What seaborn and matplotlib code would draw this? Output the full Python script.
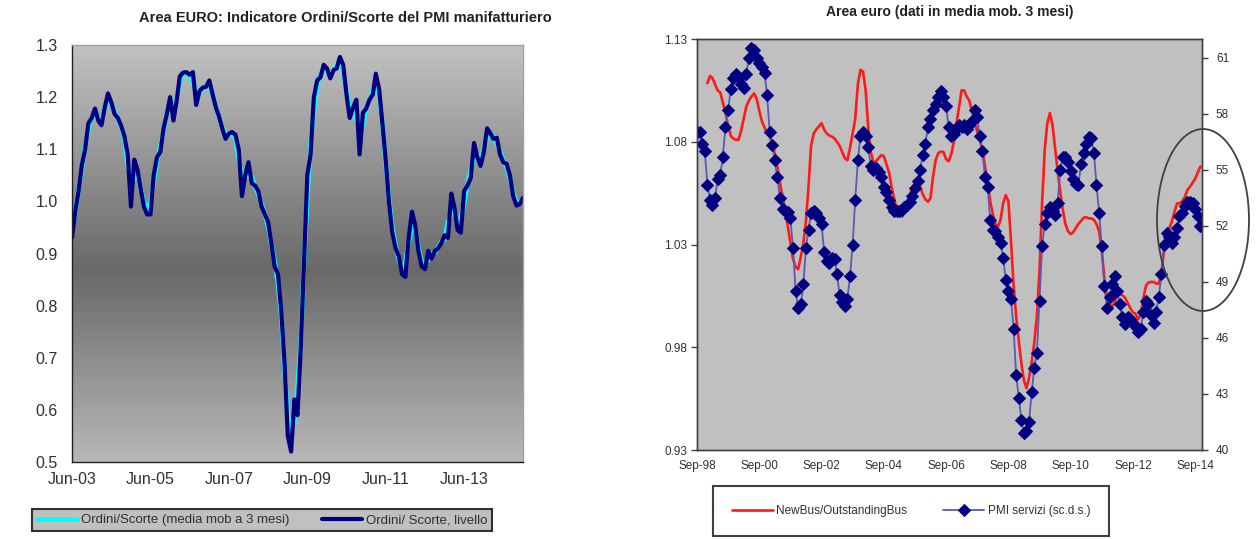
import numpy as np
import pandas as pd
import matplotlib
matplotlib.use("Agg")
import matplotlib.pyplot as plt
import matplotlib.dates as mdates
from matplotlib.colors import LinearSegmentedColormap
from matplotlib.patches import Ellipse
import seaborn as sns

# ---------------- data: left chart (Jun-03 .. Dec-14, monthly) ----------------
left_start = "2003-06-01"
ordini_livello = [
    0.93, 0.98, 1.02, 1.07, 1.10, 1.15, 1.16, 1.178, 1.155, 1.146,
    1.18, 1.207, 1.19, 1.168, 1.16, 1.145, 1.125, 1.09, 0.99, 1.08,
    1.06, 1.025, 0.99, 0.975, 0.975, 1.05, 1.085, 1.095, 1.14, 1.168,
    1.20, 1.155, 1.195, 1.24, 1.247, 1.248, 1.243, 1.248, 1.185, 1.212,
    1.218, 1.22, 1.232, 1.205, 1.18, 1.163, 1.14, 1.12, 1.13, 1.133,
    1.128, 1.10, 1.01, 1.05, 1.075, 1.035, 1.03, 1.02, 0.99, 0.975,
    0.96, 0.92, 0.875, 0.86, 0.79, 0.69, 0.55, 0.52, 0.62, 0.59,
    0.72, 0.88, 1.05, 1.09, 1.20, 1.232, 1.238, 1.262, 1.255, 1.236,
    1.252, 1.255, 1.277, 1.262, 1.205, 1.16, 1.18, 1.195, 1.09, 1.17,
    1.178, 1.195, 1.205, 1.245, 1.215, 1.15, 1.08, 1.00, 0.94, 0.91,
    0.895, 0.86, 0.855, 0.93, 0.98, 0.955, 0.905, 0.875, 0.87, 0.905,
    0.89, 0.905, 0.91, 0.92, 0.935, 0.93, 1.015, 0.99, 0.945, 0.94,
    1.02, 1.03, 1.045, 1.112, 1.085, 1.068, 1.095, 1.14, 1.13, 1.12,
    1.122, 1.09, 1.075, 1.072, 1.05, 1.01, 0.992, 0.995, 1.007,
]
ordini_mm3 = [
    0.945, 0.977, 1.023, 1.063, 1.107, 1.137, 1.163, 1.164, 1.160, 1.160,
    1.178, 1.192, 1.188, 1.173, 1.158, 1.143, 1.120, 1.068, 1.053, 1.043,
    1.055, 1.025, 0.997, 0.980, 1.000, 1.037, 1.077, 1.107, 1.134, 1.169,
    1.174, 1.183, 1.197, 1.227, 1.245, 1.246, 1.246, 1.225, 1.215, 1.205,
    1.217, 1.223, 1.219, 1.206, 1.183, 1.161, 1.141, 1.130, 1.128, 1.130,
    1.120, 1.079, 1.053, 1.045, 1.053, 1.047, 1.028, 1.013, 0.995, 0.975,
    0.952, 0.918, 0.885, 0.842, 0.780, 0.677, 0.587, 0.563, 0.577, 0.643,
    0.730, 0.883, 1.007, 1.113, 1.174, 1.223, 1.244, 1.252, 1.251, 1.248,
    1.248, 1.261, 1.265, 1.248, 1.209, 1.182, 1.178, 1.155, 1.152, 1.146,
    1.181, 1.193, 1.215, 1.222, 1.203, 1.148, 1.077, 1.007, 0.950, 0.915,
    0.888, 0.870, 0.882, 0.922, 0.955, 0.947, 0.912, 0.883, 0.883, 0.888,
    0.900, 0.902, 0.912, 0.922, 0.928, 0.960, 0.978, 0.983, 0.958, 0.968,
    0.997, 1.032, 1.062, 1.081, 1.088, 1.083, 1.101, 1.122, 1.130, 1.124,
    1.111, 1.096, 1.079, 1.066, 1.044, 1.017, 0.999, 0.998, 1.000,
]
left_xticklabels = ["Jun-03", "Jun-05", "Jun-07", "Jun-09", "Jun-11", "Jun-13"]
left_yticks = [0.5, 0.6, 0.7, 0.8, 0.9, 1.0, 1.1, 1.2, 1.3]

# ---------------- data: right chart ----------------
pmi_start = "1998-09-01"
pmi_servizi = [
    57.0, 57.0, 56.4, 56.0, 54.2, 53.4, 53.1, 53.5, 54.5, 54.7,
    55.7, 57.3, 58.2, 59.3, 59.9, 60.1, 59.9, 59.6, 59.4, 60.1,
    61.0, 61.5, 61.4, 61.0, 60.7, 60.5, 60.2, 59.0, 57.0, 56.3,
    55.5, 54.6, 53.5, 52.9, 52.8, 52.75, 52.4, 50.8, 48.5, 47.6,
    47.8, 48.9, 50.8, 51.8, 52.7, 52.8, 52.7, 52.4, 52.1, 50.6,
    50.1, 50.0, 50.3, 50.2, 49.4, 48.3, 47.9, 47.7, 48.1, 49.3,
    51.0, 53.4, 55.5, 56.8, 57.0, 56.8, 56.2, 55.2, 55.0, 55.1,
    54.9, 54.6, 54.1, 53.8, 53.4, 53.0, 52.8, 52.8, 52.8, 52.85,
    53.0, 53.1, 53.3, 53.6, 54.0, 54.4, 55.0, 55.8, 56.4, 57.3,
    57.7, 58.2, 58.5, 58.9, 59.2, 58.9, 58.4, 57.3, 56.8, 56.9,
    57.2, 57.4, 57.3, 57.4, 57.2, 57.4, 57.6, 58.2, 57.8, 56.8,
    56.0, 54.6, 54.1, 52.3, 51.8, 51.7, 51.4, 51.1, 50.3, 49.1,
    48.5, 48.1, 46.5, 44.0, 42.8, 41.6, 40.9, 41.0, 41.5, 43.1,
    44.4, 45.2, 48.0, 50.9, 52.1, 52.7, 53.0, 52.8, 52.6, 53.2,
    55.0, 55.7, 55.7, 55.4, 54.95, 54.5, 54.25, 54.2, 55.3, 55.9,
    56.4, 56.75, 56.7, 55.9, 54.2, 52.7, 50.9, 48.8, 47.6, 48.2,
    48.9, 49.3, 48.5, 47.8, 47.1, 46.75, 47.1, 47.0, 46.8, 46.6,
    46.3, 46.5, 47.4, 48.0, 47.8, 47.2, 46.8, 47.4, 48.2, 49.4,
    50.95, 51.6, 51.4, 51.1, 51.4, 51.9, 52.5, 52.7, 53.05, 53.3,
    53.3, 53.2, 52.9, 52.5, 52.0,
]
newbus_start = "1999-01-01"
newbus_outstanding = [
    1.1085, 1.112, 1.111, 1.108, 1.105, 1.104,
    1.099, 1.094, 1.088, 1.083, 1.0815, 1.081, 1.081, 1.0855, 1.091, 1.097,
    1.100, 1.102, 1.1035, 1.101, 1.095, 1.090, 1.087, 1.084, 1.0825, 1.079,
    1.0744, 1.068, 1.060, 1.053, 1.047, 1.039, 1.031, 1.023, 1.019, 1.018,
    1.024, 1.031, 1.041, 1.058, 1.078, 1.084, 1.086, 1.0875, 1.089, 1.086,
    1.084, 1.083, 1.0825, 1.0815, 1.080, 1.078, 1.075, 1.072, 1.071, 1.077,
    1.084, 1.091, 1.108, 1.115, 1.1142, 1.105, 1.087, 1.075, 1.070, 1.0705,
    1.072, 1.0735, 1.073, 1.069, 1.065, 1.058, 1.052, 1.047, 1.045, 1.0435,
    1.046, 1.050, 1.054, 1.058, 1.0598, 1.0598, 1.058, 1.0545, 1.052, 1.0508,
    1.0524, 1.063, 1.071, 1.0745, 1.0752, 1.075, 1.0715, 1.0705, 1.074, 1.080,
    1.089, 1.097, 1.105, 1.105, 1.102, 1.100, 1.095, 1.090, 1.085, 1.081,
    1.076, 1.068, 1.060, 1.051, 1.045, 1.040, 1.0386, 1.042, 1.050, 1.054,
    1.051, 1.032, 1.010, 0.995, 0.983, 0.972, 0.964, 0.960, 0.965, 0.973,
    0.982, 0.995, 1.0175, 1.050, 1.076, 1.089, 1.094, 1.088, 1.0776, 1.066,
    1.056, 1.047, 1.040, 1.0365, 1.035, 1.036, 1.038, 1.040, 1.0415, 1.043,
    1.0433, 1.0427, 1.0427, 1.042, 1.040, 1.0365, 1.027, 1.014, 1.005, 1.001,
    0.9996, 1.002, 1.0055, 1.0057, 1.0053, 1.004, 1.0015, 0.999, 0.997, 0.9963,
    0.9935, 0.996, 1.004, 1.010, 1.0115, 1.0118, 1.0118, 1.011, 1.011, 1.0165,
    1.027, 1.033, 1.038, 1.041, 1.046, 1.050, 1.050, 1.051, 1.053, 1.0565,
    1.058, 1.060, 1.062, 1.065, 1.068,
]
right_xticklabels = ["Sep-98", "Sep-00", "Sep-02", "Sep-04", "Sep-06",
                     "Sep-08", "Sep-10", "Sep-12", "Sep-14"]
right_left_yticks = [0.93, 0.98, 1.03, 1.08, 1.13]
right_right_yticks = [40, 43, 46, 49, 52, 55, 58, 61]

# ---------------- build frames ----------------
left_dates = pd.date_range(left_start, periods=len(ordini_livello), freq="MS")
df_left = pd.DataFrame({"date": left_dates, "livello": ordini_livello,
                        "mm3": ordini_mm3})
pmi_dates = pd.date_range(pmi_start, periods=len(pmi_servizi), freq="MS")
df_pmi = pd.DataFrame({"date": pmi_dates, "pmi": pmi_servizi})
nb_dates = pd.date_range(newbus_start, periods=len(newbus_outstanding), freq="MS")
df_nb = pd.DataFrame({"date": nb_dates, "nb": newbus_outstanding})

# ---------------- figure ----------------
sns.set_style("white")
plt.rcParams["font.family"] = ["Liberation Sans", "DejaVu Sans"]

W, H = 1259, 539
fig = plt.figure(figsize=(W / 100, H / 100), dpi=100)
fig.patch.set_facecolor("white")

def fr(x0, y0, x1, y1):
    return [x0 / W, 1 - y1 / H, (x1 - x0) / W, (y1 - y0) / H]

txt = "#303030"

# ---- left chart ----
lpos = fr(72, 45, 523, 462)
bg = fig.add_axes(lpos, zorder=0)
cmap = LinearSegmentedColormap.from_list(
    "g", [(0.0, (0.72, 0.72, 0.72)), (0.46, (0.41, 0.41, 0.41)),
          (1.0, (0.76, 0.76, 0.76))])
grad = np.linspace(0, 1, 256).reshape(-1, 1)
bg.imshow(grad, aspect="auto", cmap=cmap, origin="lower", extent=[0, 1, 0, 1])
bg.set_axis_off()

axL = fig.add_axes(lpos, zorder=1)
axL.set_facecolor("none")
sns.lineplot(data=df_left, x="date", y="mm3", ax=axL, color="#00ffff", lw=3.4,
             label="Ordini/Scorte (media mob a 3 mesi)")
sns.lineplot(data=df_left, x="date", y="livello", ax=axL, color="#000080", lw=3.0,
             label="Ordini/ Scorte, livello")
axL.set_xlim(left_dates[0], left_dates[-1])
axL.set_ylim(0.5, 1.3)
axL.set_yticks(left_yticks)
axL.set_yticklabels([f"{v:.1f}" for v in left_yticks])
lt = [pd.to_datetime(s, format="%b-%y") for s in left_xticklabels]
axL.set_xticks(lt)
axL.set_xticklabels(left_xticklabels)
axL.set_xlabel("")
axL.set_ylabel("")
for s in ["left", "bottom"]:
    axL.spines[s].set_color("#202020")
    axL.spines[s].set_linewidth(1.0)
for s in ["top", "right"]:
    axL.spines[s].set_color("#a0a0a0")
    axL.spines[s].set_linewidth(1.0)
axL.tick_params(axis="both", direction="out", length=4, width=1, color="#202020",
                labelsize=11.5, labelcolor=txt, pad=3)
axL.tick_params(axis="y", pad=6)
hL, lL = axL.get_legend_handles_labels()
axL.get_legend().remove()
fig.text(345 / W, 1 - 18 / H,
         "Area EURO: Indicatore Ordini/Scorte del PMI manifatturiero",
         ha="center", va="center", fontsize=10.5, fontweight="bold", color="#222222")
legL = fig.legend(hL, lL, loc="center", bbox_to_anchor=(262 / W, 1 - 520 / H),
                  ncol=2, fontsize=9.5, frameon=True, fancybox=False,
                  facecolor="#c0c0c0", edgecolor="#303030", framealpha=1,
                  handlelength=3.0, columnspacing=2.5, handletextpad=0.3,
                  borderpad=0.35)
legL.get_frame().set_linewidth(1.5)
for t in legL.get_texts():
    t.set_color(txt)

# ---- right chart ----
rpos = fr(697, 39, 1202, 450)
axR = fig.add_axes(rpos, zorder=1)
axR.set_facecolor("#c0c0c0")
sns.lineplot(data=df_nb, x="date", y="nb", ax=axR, color="#ff1a1a", lw=1.9,
             label="NewBus/OutstandingBus")
axR.set_ylim(0.93, 1.13)
axR.set_yticks(right_left_yticks)
axR.set_yticklabels([f"{v:.2f}" for v in right_left_yticks])
ax2 = axR.twinx()
sns.lineplot(data=df_pmi, x="date", y="pmi", ax=ax2, color="#5a5ab0", lw=1.3,
             marker="D", markersize=5.8, markerfacecolor="#000080",
             markeredgecolor="#000080", label="PMI servizi (sc.d.s.)")
ax2.set_ylim(40, 62)
ax2.set_yticks(right_right_yticks)
ax2.set_yticklabels([str(v) for v in right_right_yticks])
rx0 = pd.Timestamp("1998-09-01")
rx1 = pd.Timestamp("2014-11-20")
axR.set_xlim(rx0, rx1)
ax2.set_xlim(rx0, rx1)
rt = [pd.to_datetime(s, format="%b-%y") for s in right_xticklabels]
axR.set_xticks(rt)
axR.set_xticklabels(right_xticklabels)
for a in (axR, ax2):
    a.set_xlabel("")
    a.set_ylabel("")
    for s in a.spines.values():
        s.set_color("#404040")
        s.set_linewidth(1.0)
axR.tick_params(axis="both", direction="out", length=4, width=1, color="#404040",
                labelsize=8.5, labelcolor=txt, pad=3)
ax2.tick_params(axis="y", direction="out", length=4, width=1, color="#404040",
                labelsize=8.5, labelcolor=txt, pad=6)
h1, l1 = axR.get_legend_handles_labels()
h2, l2 = ax2.get_legend_handles_labels()
axR.get_legend().remove()
ax2.get_legend().remove()
fig.text(950 / W, 1 - 12 / H, "Area euro (dati in media mob. 3 mesi)",
         ha="center", va="center", fontsize=10, fontweight="bold", color="#222222")
legR = fig.legend(h1 + h2, l1 + l2, loc="center",
                  bbox_to_anchor=(911 / W, 1 - 511 / H), ncol=2, fontsize=8.5,
                  frameon=True, fancybox=False, facecolor="white",
                  edgecolor="#404040", framealpha=1, handlelength=3.5,
                  columnspacing=3.0, handletextpad=0.3, borderpad=1.6,
                  borderaxespad=0)
legR.get_frame().set_linewidth(1.5)
for t in legR.get_texts():
    t.set_color(txt)

fig.patches.append(Ellipse((1203 / W, 1 - 220 / H), 92 / W, 182 / H,
                           transform=fig.transFigure, fill=False,
                           ec="#404040", lw=1.3, zorder=5))

fig.savefig("out.png", dpi=100, facecolor="white")
